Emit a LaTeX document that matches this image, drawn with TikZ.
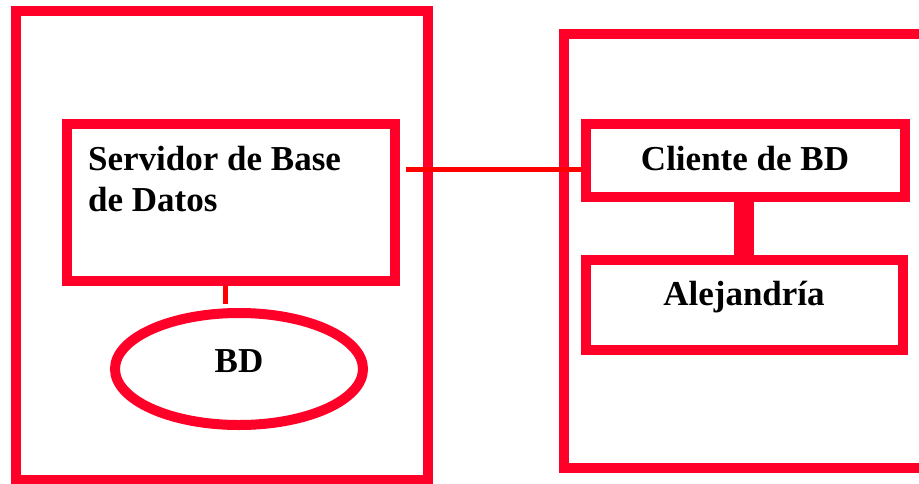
\documentclass[tikz,border=0pt]{standalone}
\usepackage{fontspec}
\setmainfont{Liberation Serif}
\usetikzlibrary{shapes.geometric}
\definecolor{boxred}{RGB}{255,0,40}
\definecolor{linered}{RGB}{255,0,0}
\begin{document}
\begin{tikzpicture}[x=1pt,y=-1pt,
  frame/.style={draw=boxred,line width=10pt,inner sep=0pt},
  boxnode/.style={draw=boxred,line width=10pt,rectangle,inner sep=0pt},
  txt/.style={font=\fontsize{35}{41}\selectfont\bfseries,inner sep=0pt},
  conn/.style={draw=linered,line width=5pt}]
\clip (0,0) rectangle (919,483);
\fill[white] (0,0) rectangle (919,483);
% outer frames
\draw[frame] (16,11) rectangle (427.5,480);
\draw[frame] (564,34) rectangle (940,468);
% server box
\node[boxnode,minimum width=328pt,minimum height=157pt] (server) at (231,202.5) {};
\node[txt,anchor=base west] (servtxt) at (88,170) {Servidor de Base};
\node[txt,anchor=base west] (servtxt2) at (88,211) {de Datos};
% BD ellipse
\node[draw=boxred,line width=10pt,ellipse,minimum width=248pt,minimum height=112pt,inner sep=0pt] (bd) at (239,369) {};
\node[txt,anchor=base] (bdtxt) at (239,372) {BD};
% client box
\node[boxnode,minimum width=319pt,minimum height=73pt] (client) at (745.5,160.5) {};
\node[txt,anchor=base] (clitxt) at (745,170) {Cliente de BD};
% alejandria box
\node[boxnode,minimum width=317pt,minimum height=90pt] (alej) at (744.5,305) {};
\node[txt,anchor=base] (alejtxt) at (744,305) {Alejandría};
% connectors
\draw[conn] ([xshift=6pt]server.east |- 0,169) coordinate (c1) -- (client.west |- 0,169);
\draw[conn] (server.south -| 225,0) -- (225,304) coordinate (c4);
\draw[draw=boxred,line width=20pt] (client.south -| 744,0) -- (alej.north -| 744,0);
\end{tikzpicture}
\end{document}
